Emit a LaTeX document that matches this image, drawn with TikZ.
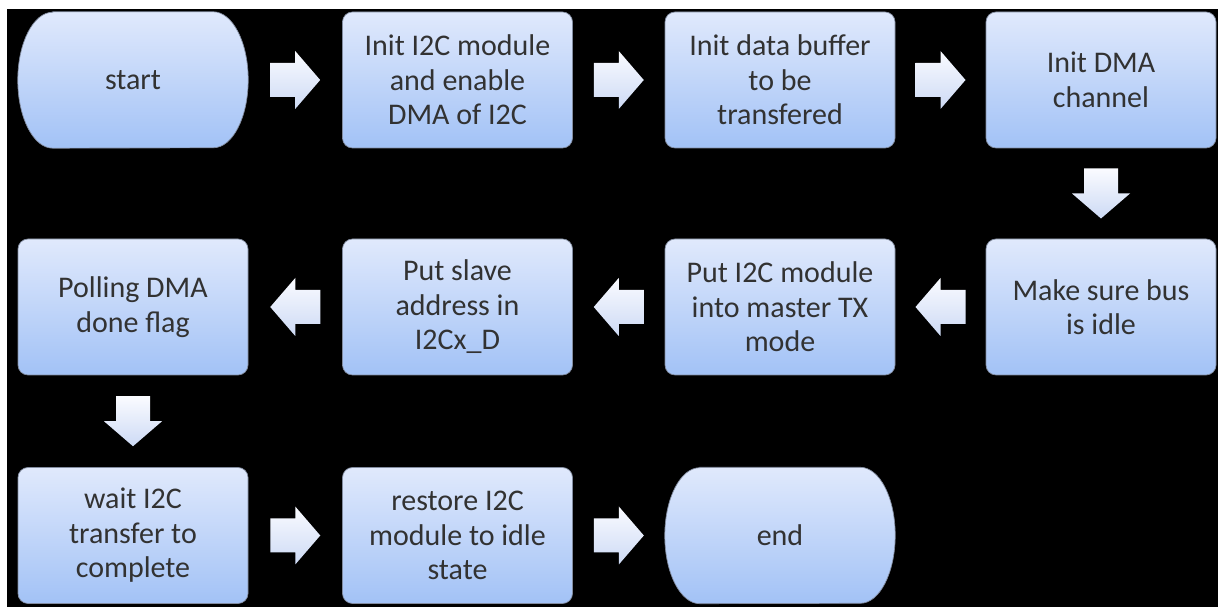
\documentclass[tikz,border=0pt]{standalone}
\usepackage{fontspec}
\setmainfont{Carlito}
\usetikzlibrary{calc}
\pgfdeclarelayer{bg}
\pgfsetlayers{bg,main}
\definecolor{boxtop}{RGB}{224,233,252}
\definecolor{boxbot}{RGB}{162,194,246}
\definecolor{boxline}{RGB}{130,140,160}
\definecolor{txt}{RGB}{50,50,50}
\definecolor{arrtop}{RGB}{250,251,255}
\definecolor{arrbot}{RGB}{205,218,245}
\newcommand{\myterm}[1]{%
  \path[termshape] ([xshift=35pt]#1.north west) -- ([xshift=-35pt]#1.north east)
    arc[start angle=90,end angle=-90,x radius=35pt,y radius=68pt]
    -- ([xshift=35pt]#1.south west)
    arc[start angle=270,end angle=90,x radius=35pt,y radius=68pt] -- cycle;}
\begin{document}
\begin{tikzpicture}[x=1pt,y=1pt,
  boxtext/.style={align=center, text=txt, font=\fontsize{30}{34.5}\selectfont, inner sep=0pt,
    minimum width=230pt, minimum height=136pt},
  procbox/.style={boxtext, rectangle, rounded corners=10pt, top color=boxtop, bottom color=boxbot,
    draw=boxline, line width=0.7pt},
  termbox/.style={boxtext, rectangle},
  termshape/.style={top color=boxtop, bottom color=boxbot, draw=boxline, line width=0.7pt},
  blockarr/.pic={\path[top color=arrtop, bottom color=arrbot]
    (-25,-17) -- (0,-17) -- (0,-29) -- (25,0) -- (0,29) -- (0,17) -- (-25,17) -- cycle;}
]
\useasboundingbox (0,0) rectangle (1218,607);

% row 1
\node[termbox] (start) at (133,527) {start};
\node[procbox] (initi2c) at (457.5,527) {Init I2C module\\and enable\\DMA of I2C};
\node[procbox] (initbuf) at (780,527) {Init data buffer\\to be\\transfered};
\node[procbox] (initdma) at (1101,527) {Init DMA\\channel};
% row 2
\node[procbox] (poll) at (133,300) {Polling DMA\\done flag};
\node[procbox] (slave) at (457.5,300) {Put slave\\address in\\I2Cx\_D};
\node[procbox] (master) at (780,300) {Put I2C module\\into master TX\\mode};
\node[procbox] (idle) at (1101,300) {Make sure bus\\is idle};
% row 3
\node[procbox] (wait) at (133,71.5) {wait I2C\\transfer to\\complete};
\node[procbox] (restore) at (457.5,71.5) {restore I2C\\module to idle\\state};
\node[termbox] (end) at (780,71.5) {end};

\begin{pgfonlayer}{bg}
  \fill[white] (0,0) rectangle (1218,607);
  \fill[black] (7,0) rectangle (1218,598);
  \myterm{start}
  \myterm{end}
\end{pgfonlayer}

% block arrows
\pic at ($(start.east)!0.5!(initi2c.west)$) {blockarr};
\pic at ($(initi2c.east)!0.5!(initbuf.west)$) {blockarr};
\pic at ($(initbuf.east)!0.5!(initdma.west)$) {blockarr};
\pic[rotate=-90] at ($(initdma.south)!0.5!(idle.north)$) {blockarr};
\pic[rotate=180] at ($(idle.west)!0.5!(master.east)$) {blockarr};
\pic[rotate=180] at ($(master.west)!0.5!(slave.east)$) {blockarr};
\pic[rotate=180] at ($(slave.west)!0.5!(poll.east)$) {blockarr};
\pic[rotate=-90] at ($(poll.south)!0.5!(wait.north)$) {blockarr};
\pic at ($(wait.east)!0.5!(restore.west)$) {blockarr};
\pic at ($(restore.east)!0.5!(end.west)$) {blockarr};
\end{tikzpicture}
\end{document}
